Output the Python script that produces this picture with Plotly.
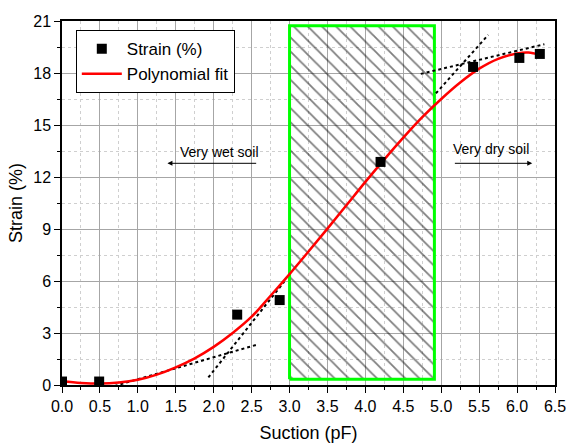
import plotly.graph_objects as go

# Measured data
suction = [0.0, 0.49, 2.31, 2.87, 4.2, 5.42, 6.03, 6.3]
strain = [0.2, 0.2, 4.06, 4.9, 12.87, 18.35, 18.87, 19.1]

# Polynomial fit curve
fit_x = [0, 0.25, 0.5, 0.75, 1.0, 1.25, 1.5, 1.75, 2.0, 2.25, 2.5, 2.75, 3.0, 3.25, 3.5,
         3.75, 4.0, 4.25, 4.5, 4.75, 5.0, 5.25, 5.5, 5.75, 6.0, 6.15, 6.3]
fit_y = [0.22, 0.12, 0.08, 0.14, 0.3, 0.6, 1.02, 1.54, 2.2, 3.0, 3.94, 5.15, 6.4, 7.7, 9.02,
         10.37, 11.72, 13.02, 14.27, 15.45, 16.5, 17.45, 18.25, 18.82, 19.13, 19.18, 19.05]

# Dotted tangent lines (endpoints)
tanA_x, tanA_y = [0.39, 2.56], [-0.44, 2.31]
tanB_x, tanB_y = [1.93, 2.93], [0.44, 5.96]
tanC_x, tanC_y = [4.93, 5.62], [16.83, 20.2]
tanD_x, tanD_y = [4.73, 6.36], [17.95, 19.66]

# Transition zone box
box_x = [3.0, 4.91, 4.91, 3.0, 3.0]
box_y = [0.33, 0.33, 20.73, 20.73, 0.33]

FONT = "Liberation Sans"

fig = go.Figure()

fig.add_trace(go.Scatter(
    x=box_x, y=box_y, mode="lines", fill="toself",
    fillcolor="rgba(0,0,0,0)",
    fillpattern=dict(shape="\\", fgcolor="black", bgcolor="rgba(0,0,0,0)", size=10, solidity=0.18),
    line=dict(color="#00ff00", width=3), showlegend=False, hoverinfo="skip"))

for tx, ty in [(tanA_x, tanA_y), (tanB_x, tanB_y), (tanC_x, tanC_y), (tanD_x, tanD_y)]:
    fig.add_trace(go.Scatter(x=tx, y=ty, mode="lines", line=dict(color="black", width=2, dash="dot"),
                             showlegend=False, hoverinfo="skip"))

fig.add_trace(go.Scatter(x=fit_x, y=fit_y, mode="lines", name="Polynomial fit",
                         line=dict(color="red", width=2.5, shape="spline", smoothing=1.0)))
fig.add_trace(go.Scatter(x=suction, y=strain, mode="markers", name="Strain (%)",
                         marker=dict(symbol="square", color="black", size=10)))

fig.add_annotation(x=2.07, y=13.45, text="Very wet soil", showarrow=False,
                   font=dict(size=14, color="black", family=FONT))
fig.add_annotation(x=1.39, y=12.79, ax=2.58, ay=12.79, xref="x", yref="y", axref="x", ayref="y",
                   text="", showarrow=True, arrowhead=2, arrowsize=1, arrowwidth=1, arrowcolor="black")
fig.add_annotation(x=5.65, y=13.62, text="Very dry soil", showarrow=False,
                   font=dict(size=14, color="black", family=FONT))
fig.add_annotation(x=6.2, y=12.79, ax=5.16, ay=12.79, xref="x", yref="y", axref="x", ayref="y",
                   text="", showarrow=True, arrowhead=2, arrowsize=1, arrowwidth=1, arrowcolor="black")

axis_common = dict(
    showline=True, linecolor="black", linewidth=1.5, mirror=True,
    ticks="outside", ticklen=6, tickwidth=1.2, tickcolor="black",
    showgrid=True, gridcolor="#a6a6a6", gridwidth=1,
    tickfont=dict(size=16, color="black", family=FONT),
    zeroline=False, automargin=False,
)

fig.update_xaxes(range=[0, 6.5], dtick=0.5, tickformat=".1f",
                 title=dict(text="Suction (pF)", font=dict(size=18, color="black", family=FONT), standoff=12),
                 minor=dict(dtick=0.25, ticks="outside", ticklen=3, tickcolor="black",
                            showgrid=True, gridcolor="#cfcfcf", griddash="dot", gridwidth=1),
                 **axis_common)
fig.update_yaxes(range=[0, 21], dtick=3,
                 title=dict(text="Strain (%)", font=dict(size=18, color="black", family=FONT), standoff=6),
                 minor=dict(dtick=1.5, ticks="outside", ticklen=3, tickcolor="black",
                            showgrid=True, gridcolor="#cfcfcf", griddash="dot", gridwidth=1),
                 **axis_common)

fig.update_layout(
    width=568, height=443,
    margin=dict(l=62, r=13, t=21, b=58),
    plot_bgcolor="white", paper_bgcolor="white",
    font=dict(family=FONT, color="black"),
    legend=dict(x=0.028, y=0.975, xanchor="left", yanchor="top",
                bgcolor="white", bordercolor="black", borderwidth=1,
                font=dict(size=17, color="black", family=FONT), traceorder="reversed",
                tracegroupgap=0, itemwidth=40),
)

fig.write_html("out.html")
